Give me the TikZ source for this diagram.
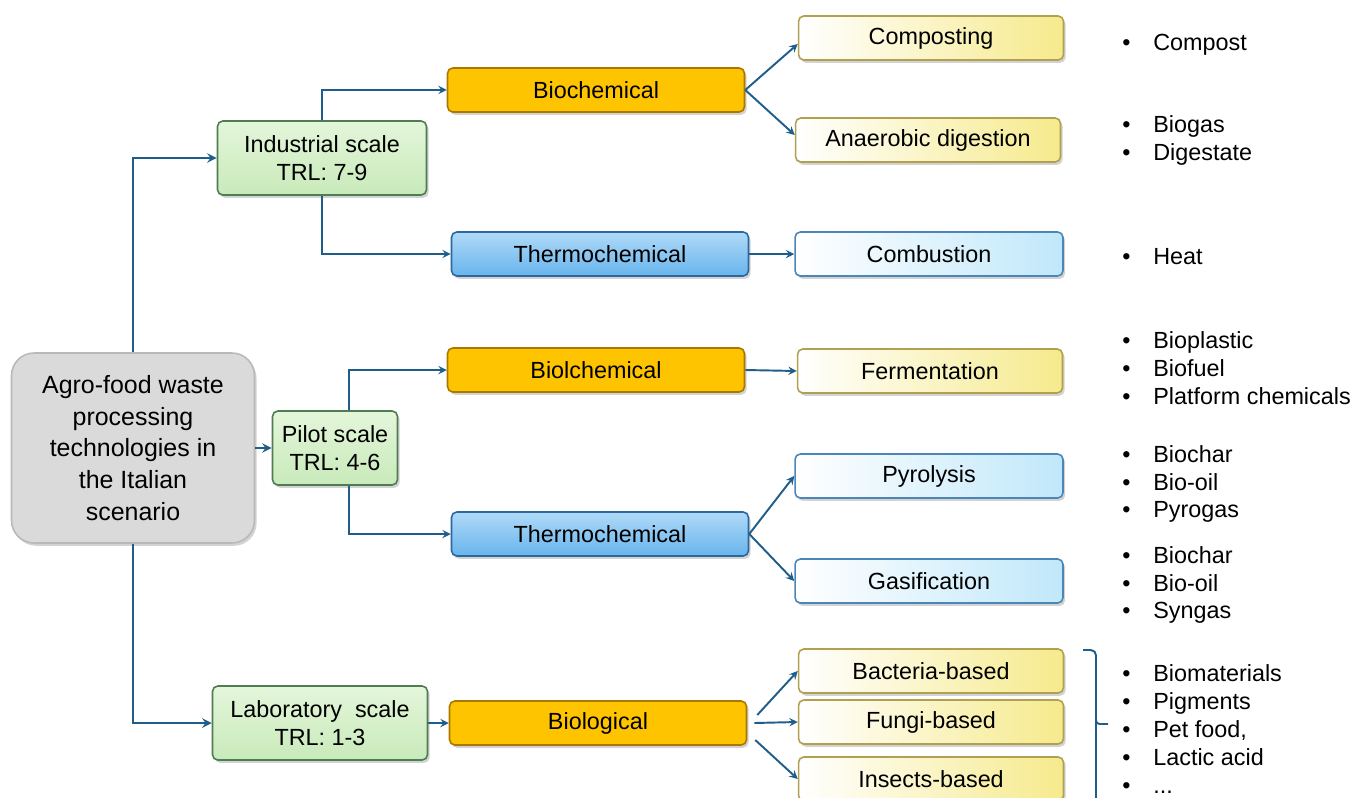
\documentclass[tikz,border=0pt]{standalone}
\usepackage{fontspec}
\setmainfont{Liberation Sans}
\usepackage{tikz}
\usetikzlibrary{shapes,arrows,shadows,positioning}

\definecolor{linkblue}{RGB}{31,93,138}
\definecolor{greenfill}{RGB}{228,246,218}
\definecolor{greendark}{RGB}{200,234,186}
\definecolor{greenline}{RGB}{80,124,84}
\definecolor{orangefill}{RGB}{255,196,0}
\definecolor{orangeline}{RGB}{170,120,0}
\definecolor{bluetop}{RGB}{176,218,248}
\definecolor{bluebot}{RGB}{104,180,236}
\definecolor{blueline}{RGB}{44,104,160}
\definecolor{yellowright}{RGB}{246,234,140}
\definecolor{yellowline}{RGB}{176,160,80}
\definecolor{iceright}{RGB}{192,232,250}
\definecolor{iceline}{RGB}{76,134,184}
\definecolor{grayfill}{RGB}{218,218,218}

\newcommand{\blt}{\makebox[0.62cm][l]{•}}

\begin{document}
\begin{tikzpicture}[x=0.02cm, y=-0.02cm, >=stealth]
		\tikzstyle{Box}		= [rectangle, draw, rounded corners=3pt, line width=0.9pt, minimum height=0.88cm, inner sep=2pt, font=\fontsize{13.3}{16}\selectfont, drop shadow={shadow xshift=1.2pt, shadow yshift=-1.6pt, opacity=0.35}]
		\tikzstyle{Source}	= [Box, draw=grayfill!85!black, fill=grayfill, rounded corners=0.45cm, minimum width=4.86cm, minimum height=3.8cm, align=center, font=\fontsize{14.2}{18}\selectfont]
		\tikzstyle{Scale}	= [Box, draw=greenline, top color=greenfill, bottom color=greendark, minimum height=1.48cm, align=center]
		\tikzstyle{Orange}	= [Box, draw=orangeline, fill=orangefill, minimum width=5.94cm]
		\tikzstyle{Blue}	= [Box, draw=blueline, top color=bluetop, bottom color=bluebot, minimum width=5.94cm]
		\tikzstyle{Yellow}	= [Box, draw=yellowline, left color=white, right color=yellowright, minimum width=5.3cm]
		\tikzstyle{Ice}		= [Box, draw=iceline, left color=white, right color=iceright, minimum width=5.36cm]
		\tikzstyle{List}	= [anchor=west, inner sep=0pt, align=left, font=\fontsize{13.3}{15.9}\selectfont]
		\tikzstyle{Trunk}	= [linkblue, line width=1.4pt]
		\tikzstyle{Link}	= [linkblue, line width=1.1pt]

		\useasboundingbox (0,0) rectangle (1354,797);

		\node (src) at (133, 448) [Source] {Agro-food waste\\processing\\technologies in\\the Italian\\scenario};
		\node (ind) at (322, 158) [Scale, minimum width=4.18cm] {Industrial scale\\TRL: 7-9};
		\node (pil) at (335, 448) [Scale, minimum width=2.5cm] {Pilot scale\\TRL: 4-6};
		\node (lab) at (320, 723) [Scale, minimum width=4.3cm] {Laboratory\ \ scale\\TRL: 1-3};

		\node (bc1) at (596, 90) [Orange] {Biochemical};
		\node (tc1) at (600, 254) [Blue] {Thermochemical};
		\node (bc2) at (596, 370) [Orange] {Biolchemical};
		\node (tc2) at (600, 534) [Blue] {Thermochemical};
		\node (bl) at (598, 723) [Orange] {Biological};

		\node (cmp) at (931, 38) [Yellow] {Composting};
		\node (ana) at (928, 140) [Yellow] {Anaerobic digestion};
		\node (cmb) at (929, 254) [Ice] {Combustion};
		\node (fer) at (930, 371) [Yellow] {Fermentation};
		\node (pyr) at (929, 476) [Ice] {Pyrolysis};
		\node (gas) at (929, 581) [Ice] {Gasification};
		\node (bac) at (931, 671) [Yellow] {Bacteria-based};
		\node (fun) at (931, 722) [Yellow] {Fungi-based};
		\node (ins) at (931, 779) [Yellow] {Insects-based};

		\node (out1) at (1122, 45) [List] {\blt Compost};
		\node (out2) at (1122, 140) [List] {\blt Biogas\\\blt Digestate};
		\node (out3) at (1122, 257) [List] {\blt Heat};
		\node (out4) at (1122, 368) [List] {\blt Bioplastic\\\blt Biofuel\\\blt Platform chemicals};
		\node (out5) at (1122, 484) [List] {\blt Biochar\\\blt Bio-oil\\\blt Pyrogas};
		\node (out6) at (1122, 585) [List] {\blt Biochar\\\blt Bio-oil\\\blt Syngas};
		\node (out7) at (1122, 729) [List] {\blt Biomaterials\\\blt Pigments\\\blt Pet food,\\\blt Lactic acid\\\blt ...};

		\draw [->] (src.north) |- (ind.west) [Trunk];
		\draw [->] (src.south) |- (lab.west) [Trunk];
		\draw [->] (src.east) -- (pil.west) [Trunk];

		\draw [->] (ind.north) |- (bc1.west) [Link];
		\draw [->] (ind.south) |- (tc1.west) [Link];
		\draw [->] ([xshift=0.28cm]pil.north) |- (bc2.west) [Link];
		\draw [->] ([xshift=0.28cm]pil.south) |- (tc2.west) [Link];
		\draw [->] (lab.east) -- (bl.west) [Link];

		\draw [->] (bc1.east) -- ([yshift=-0.12cm]cmp.west) [Link];
		\draw [->] (bc1.east) -- ([yshift=0.1cm]ana.west) [Link];
		\draw [->] (tc1.east) -- (cmb.west) [Link];
		\draw [->] (bc2.east) -- (fer.west) [Link];
		\draw [->] (tc2.east) -- (pyr.west) [Link];
		\draw [->] (tc2.east) -- (gas.west) [Link];
		\draw [->] ([xshift=0.2cm, yshift=0.16cm]bl.east) -- (bac.west) [Link];
		\draw [->] ([xshift=0.14cm]bl.east) -- (fun.west) [Link];
		\draw [->] ([xshift=0.16cm, yshift=-0.34cm]bl.east) -- (ins.west) [Link];

		% bracket for the biological products
		\draw [Link, rounded corners=3pt] (1083, 650) -| (1096, 800);
		\draw [Link, rounded corners=2pt] (1096, 718) |- (1108, 724);
	\end{tikzpicture}
\end{document}
